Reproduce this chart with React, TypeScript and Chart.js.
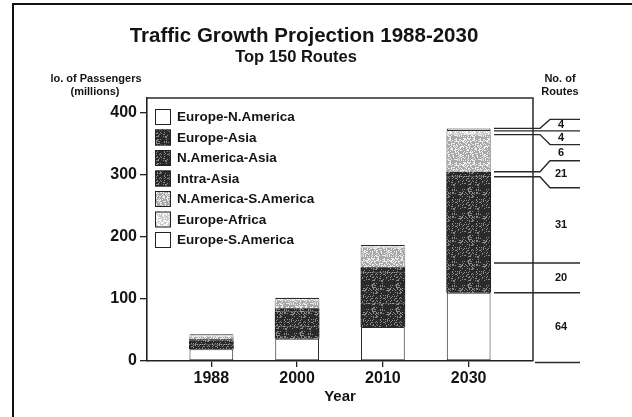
import React, { useEffect, useRef } from 'react';
import { Chart, registerables } from 'chart.js';

Chart.register(...registerables);

// ---- data ----
const years = ['1988', '2000', '2010', '2030'];
const seriesNames = [
  'Europe-N.America',
  'Europe-Asia',
  'N.America-Asia',
  'Intra-Asia',
  'N.America-S.America',
  'Europe-Africa',
  'Europe-S.America',
];
const europeNAmerica = [19, 36, 55, 110];
const europeAsia = [8, 20, 38, 48];
const nAmericaAsia = [6, 24, 50, 139];
const intraAsia = [2, 5, 8, 8];
const nAmericaSAmerica = [4, 13, 32, 60];
const europeAfrica = [2, 2, 2, 6];
const europeSAmerica = [2, 2, 2, 4];
const routesCount = [64, 20, 31, 21, 6, 4, 4];
const yTicks = [0, 100, 200, 300, 400];

const FONT = "'Liberation Sans', Arial, Helvetica, sans-serif";
const INK = '#141414';

// deterministic stipple texture (style only)
function makeStipple(base: string, dot: string, density: number, seed: number) {
  const size = 24;
  const c = document.createElement('canvas');
  c.width = size;
  c.height = size;
  const g = c.getContext('2d')!;
  g.fillStyle = base;
  g.fillRect(0, 0, size, size);
  g.fillStyle = dot;
  let h = seed >>> 0;
  for (let yy = 0; yy < size; yy++) {
    for (let xx = 0; xx < size; xx++) {
      h = (Math.imul(h ^ (h >>> 15), 2246822519) + 3266489917) >>> 0;
      h ^= h >>> 13;
      if ((h % 1000) / 1000 < density) g.fillRect(xx, yy, 1, 1);
    }
  }
  return g.createPattern(c, 'repeat')!;
}

export default function App() {
  const ref = useRef<HTMLCanvasElement | null>(null);

  useEffect(() => {
    if (!ref.current) return;
    Chart.defaults.font.family = FONT;
    Chart.defaults.color = INK;

    const dark = makeStipple('#8a8a8a', '#2a2a2a', 0.62, 17);
    const light = makeStipple('#ececec', '#a8a8a8', 0.32, 91);
    const dotted = makeStipple('#ffffff', '#cccccc', 0.1, 53);

    const values = [
      europeNAmerica,
      europeAsia,
      nAmericaAsia,
      intraAsia,
      nAmericaSAmerica,
      europeAfrica,
      europeSAmerica,
    ];
    const fills: any[] = ['#ffffff', dark, dark, dark, light, dotted, '#ffffff'];
    const borders = ['#2a2a2a', '#1e1e1e', '#1e1e1e', '#1e1e1e', '#a8a8a8', '#a8a8a8', '#2a2a2a'];
    const side = { left: 1, right: 1, top: 0, bottom: 0 };
    const widths: any[] = [1, side, side, side, side, side, 1];
    const inflate = [0, 0.6, 0.6, 0.6, 0.6, 0.6, 0];

    const datasets = values.map((arr, k) => ({
      label: seriesNames[k],
      data: arr.map((v, i) => ({ x: i, y: v })),
      backgroundColor: fills[k],
      borderColor: borders[k],
      borderWidth: widths[k],
      borderSkipped: false as const,
      inflateAmount: inflate[k],
      barPercentage: 0.51,
      categoryPercentage: 1,
    }));

    const decor = {
      id: 'decor',
      afterDraw(chart: any) {
        const ctx = chart.ctx as CanvasRenderingContext2D;
        const ca = chart.chartArea;
        const ys = chart.scales.y;
        ctx.save();

        // outer frame
        ctx.strokeStyle = '#111';
        ctx.lineWidth = 2;
        ctx.beginPath();
        ctx.moveTo(13, 420);
        ctx.lineTo(13, 4);
        ctx.lineTo(640, 4);
        ctx.stroke();

        // plot frame (top & right)
        ctx.strokeStyle = '#2a2a2a';
        ctx.lineWidth = 1.5;
        ctx.beginPath();
        ctx.moveTo(ca.left, ca.top);
        ctx.lineTo(ca.right, ca.top);
        ctx.lineTo(ca.right, ca.bottom);
        ctx.stroke();

        // titles
        ctx.fillStyle = INK;
        ctx.textAlign = 'center';
        ctx.textBaseline = 'alphabetic';
        ctx.font = `bold 20.5px ${FONT}`;
        ctx.fillText('Traffic Growth Projection 1988-2030', 304, 42);
        ctx.font = `bold 16.5px ${FONT}`;
        ctx.fillText('Top 150 Routes', 296, 62);

        ctx.textBaseline = 'middle';
        ctx.font = `bold 11px ${FONT}`;
        ctx.fillText('lo. of Passengers', 96, 79);
        ctx.fillText('(millions)', 95, 92);
        ctx.fillText('No. of', 560, 79);
        ctx.fillText('Routes', 560, 92);

        // legend
        chart.data.datasets.forEach((ds: any, i: number) => {
          const by = 109 + i * 20.5;
          ctx.fillStyle = ds.backgroundColor;
          ctx.fillRect(155, by, 16, 16);
          ctx.strokeStyle = '#222';
          ctx.lineWidth = 1;
          ctx.strokeRect(155.5, by + 0.5, 15, 15);
          ctx.fillStyle = INK;
          ctx.textAlign = 'left';
          ctx.font = `bold 13.5px ${FONT}`;
          ctx.fillText(ds.label, 177, by + 8.5);
        });

        // route-count brackets for 2030
        const last = years.length - 1;
        const offsets = [0, 0, 11, -11, 10, 0, -9];
        const x0 = 494, xk1 = 540, xk2 = 550, x1 = 580;
        const y0 = ys.getPixelForValue(0);
        ctx.strokeStyle = '#2a2a2a';
        ctx.lineWidth = 1.4;
        ctx.beginPath();
        ctx.moveTo(535, y0 + 1.5);
        ctx.lineTo(x1, y0 + 1.5);
        ctx.stroke();
        let cum = 0;
        let prev = y0;
        ctx.font = `bold 11px ${FONT}`;
        ctx.textAlign = 'center';
        values.forEach((arr, k) => {
          cum += arr[last];
          const y = ys.getPixelForValue(cum);
          const ye = y + offsets[k];
          ctx.beginPath();
          ctx.moveTo(x0, y);
          ctx.lineTo(xk1, y);
          ctx.lineTo(xk2, ye);
          ctx.lineTo(x1, ye);
          ctx.stroke();
          ctx.fillStyle = INK;
          ctx.fillText(String(routesCount[k]), 561, (prev + ye) / 2);
          prev = ye;
        });
        ctx.restore();
      },
    };

    const chart = new Chart(ref.current, {
      type: 'bar',
      data: { datasets },
      options: {
        animation: false,
        responsive: false,
        devicePixelRatio: 1,
        layout: { padding: { left: 0, right: 99, top: 98, bottom: 0 } },
        plugins: { legend: { display: false }, tooltip: { enabled: false } },
        scales: {
          x: {
            type: 'linear',
            min: -0.75,
            max: 3.75,
            offset: false,
            stacked: true,
            afterBuildTicks: (axis: any) => {
              axis.ticks = years.map((_, i) => ({ value: i }));
            },
            afterFit: (axis: any) => {
              axis.height = 56;
            },
            ticks: {
              callback: (v: any) => years[v] ?? '',
              font: { size: 16, weight: 'bold' },
              color: INK,
              padding: 2,
              maxRotation: 0,
              autoSkip: false,
            },
            grid: {
              offset: false,
              drawOnChartArea: false,
              drawTicks: true,
              tickLength: 6,
              color: '#222',
              lineWidth: 1.3,
            },
            border: { color: '#222', width: 1.6 },
            title: {
              display: true,
              text: 'Year',
              font: { size: 15, weight: 'bold' },
              color: INK,
              padding: { top: 0, bottom: 11 },
            },
          },
          y: {
            min: 0,
            max: 424,
            stacked: true,
            afterBuildTicks: (axis: any) => {
              axis.ticks = yTicks.map((v) => ({ value: v }));
            },
            afterFit: (axis: any) => {
              axis.width = 147;
            },
            ticks: {
              font: { size: 16, weight: 'bold' },
              color: INK,
              padding: 3,
            },
            grid: {
              drawOnChartArea: false,
              drawTicks: true,
              tickLength: 7,
              color: '#222',
              lineWidth: 1.3,
            },
            border: { color: '#222', width: 1.6 },
          },
        },
      },
      plugins: [decor],
    } as any);

    return () => chart.destroy();
  }, []);

  return (
    <div style={{ position: 'fixed', left: 0, top: 0, width: 632, height: 417, background: '#fff' }}>
      <canvas ref={ref} width={632} height={417} style={{ display: 'block' }} />
    </div>
  );
}
